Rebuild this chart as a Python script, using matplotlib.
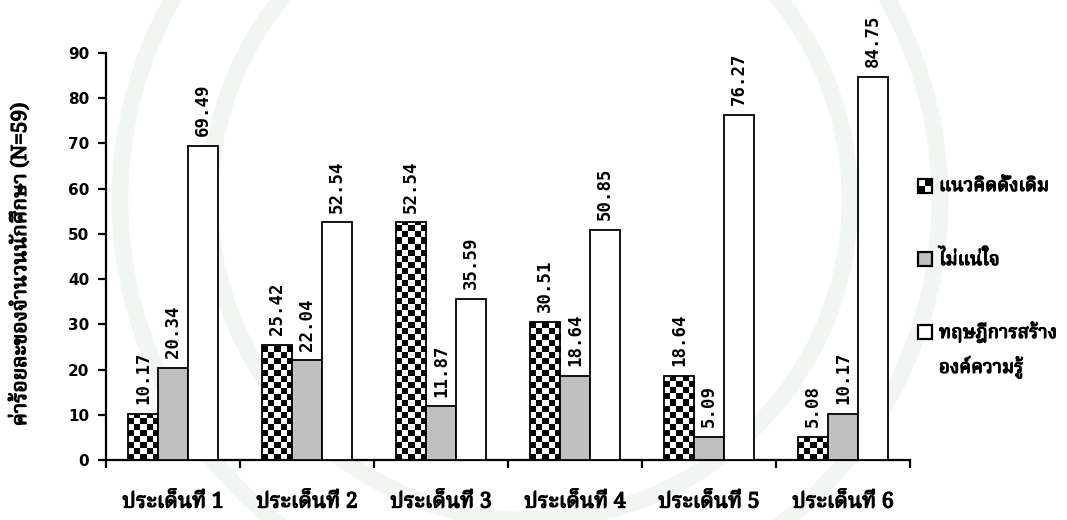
import numpy as np
import matplotlib
matplotlib.use("Agg")
import matplotlib.pyplot as plt
import matplotlib.patheffects as pe
from matplotlib import font_manager, ft2font
from matplotlib.patches import Rectangle, Ellipse

# data: percentage of students (N=59) per issue
issues = ["ประเด็นที่ 1", "ประเด็นที่ 2", "ประเด็นที่ 3",
          "ประเด็นที่ 4", "ประเด็นที่ 5", "ประเด็นที่ 6"]
traditional = [10.17, 25.42, 52.54, 30.51, 18.64, 5.08]
unsure = [20.34, 22.04, 11.87, 18.64, 5.09, 10.17]
constructivist = [69.49, 52.54, 35.59, 50.85, 76.27, 84.75]
series_names = ["แนวคิดดั้งเดิม", "ไม่แน่ใจ", "ทฤษฎีการสร้าง\nองค์ความรู้"]
ylabel = "ค่าร้อยละของจำนวนนักศึกษา (N=59)"


def thai_family():
    # first installed font that actually has Thai glyphs
    preferred = ["Noto Serif Thai", "Noto Sans Thai", "Loma", "Garuda", "Norasi", "Sarabun"]
    found = {}
    for f in font_manager.fontManager.ttflist:
        try:
            if 0x0E01 in ft2font.FT2Font(f.fname).get_charmap():
                found.setdefault(f.name, f.fname)
        except Exception:
            pass
    for name in preferred:
        if name in found:
            return name
    return next(iter(found), "DejaVu Sans")


THAI = [thai_family(), "DejaVu Sans"]
# thicken the Thai text a little (no heavy Thai face installed)
HEAVY = [pe.withStroke(linewidth=0.9, foreground="black")]

fig = plt.figure(figsize=(10.67, 5.2), dpi=100)

# faint seal rings in the background
for r in (3.2, 4.1):
    fig.patches.append(Ellipse((5.3, 3.2), 2 * r, 2 * r, transform=fig.dpi_scale_trans,
                               facecolor="none", edgecolor="#f2f6f2", lw=12, zorder=-5))

ax = fig.add_axes([106 / 1067, 60 / 520, 804 / 1067, 407 / 520])
ax.patch.set_alpha(0)

x = np.arange(len(issues))
w = 0.224
b0 = ax.bar(x - w, traditional, w, facecolor="none", edgecolor="black", lw=1.3, zorder=3)
b1 = ax.bar(x, unsure, w, facecolor="#c0c0c0", edgecolor="black", lw=1.3, zorder=3)
b2 = ax.bar(x + w, constructivist, w, facecolor="white", edgecolor="black", lw=1.3, zorder=3)

# checkerboard fill for the first series, clipped to each bar
sq = w / 5 * (804 / 6) * (90 / 407)  # square side in data units (equal pixels)
for p in b0.patches:
    x0, hgt = p.get_x(), p.get_height()
    rows = int(np.ceil(hgt / sq))
    board = (np.add.outer(np.arange(rows), np.arange(5)) % 2)[::-1]
    im = ax.imshow(board, cmap="gray", interpolation="nearest", aspect="auto",
                   extent=(x0, x0 + w, 0, rows * sq), origin="upper", zorder=2)
    im.set_clip_path(p)
ax.set_xlim(-0.5, len(issues) - 0.5)
ax.set_ylim(0, 90)

for cont in (b0, b1, b2):
    ax.bar_label(cont, fmt="%.2f", padding=7, rotation=90, fontsize=12.5,
                 family="DejaVu Sans Mono", fontweight="bold", color="black")

for s in ("top", "right"):
    ax.spines[s].set_visible(False)
for s in ("left", "bottom"):
    ax.spines[s].set_linewidth(1.6)

ax.set_yticks(range(0, 91, 10))
ax.tick_params(axis="y", length=6, width=1.6, pad=6, labelsize=11)
for t in ax.get_yticklabels():
    t.set_fontfamily("DejaVu Sans")
    t.set_fontweight("bold")

ax.set_xticks(x)
ax.set_xticklabels(issues, fontsize=15.5, fontweight="bold", family=THAI)
for t in ax.get_xticklabels():
    t.set_path_effects(HEAVY)
ax.set_xticks(np.arange(-0.5, len(issues)), minor=True)
ax.tick_params(axis="x", which="major", length=0, pad=22)
ax.tick_params(axis="x", which="minor", length=6, width=1.6)

fig.text(20 / 1067, 1 - 265 / 520, ylabel, rotation=90, ha="center", va="center",
         fontsize=15, fontweight="bold", family=THAI, path_effects=HEAVY)

# legend on the right: square swatch beside the first line of each label
key_px = 14
for i, (name, y_px) in enumerate(zip(series_names, (186, 259, 332))):
    kx, ky = 918 / 1067, 1 - (y_px + key_px / 2) / 520
    kw, kh = key_px / 1067, key_px / 520
    fc = ["white", "#c0c0c0", "white"][i]
    fig.patches.append(Rectangle((kx, ky), kw, kh, transform=fig.transFigure,
                                 facecolor=fc, edgecolor="black", lw=1.6, zorder=5))
    if i == 0:
        for dx, dy in ((0, 0), (0.5, 0.5)):
            fig.patches.append(Rectangle((kx + dx * kw, ky + dy * kh), kw / 2, kh / 2,
                                         transform=fig.transFigure, facecolor="black",
                                         lw=0, zorder=6))
    for j, line in enumerate(name.split("\n")):
        fig.text(939 / 1067, 1 - (y_px + 35 * j) / 520, line, ha="left", va="center",
                 fontsize=13.5, fontweight="bold", family=THAI, path_effects=HEAVY)

fig.savefig("out.png", dpi=100)
